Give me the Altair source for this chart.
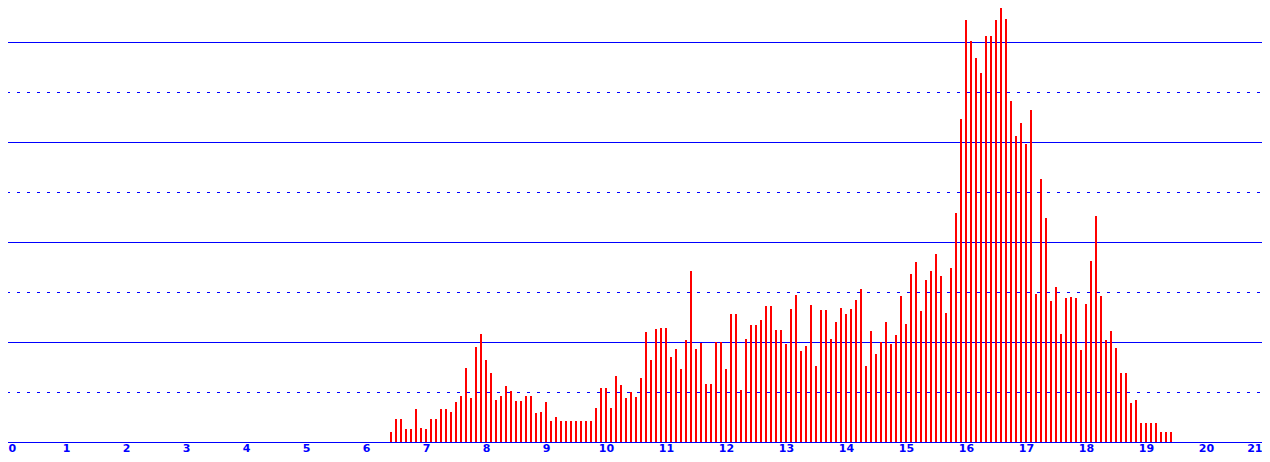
import altair as alt
import pandas as pd

# Bins of five minutes, first bin at 6:25
start_hour = 6
start_minute = 25
step_minutes = 5

counts = [
    0.20, 0.46, 0.46, 0.26, 0.26, 0.66, 0.28, 0.26, 0.46, 0.46,
    0.66, 0.66, 0.60, 0.80, 0.92, 1.48, 0.88, 1.90, 2.16, 1.64,
    1.38, 0.84, 0.92, 1.12, 1.02, 0.82, 0.82, 0.92, 0.92, 0.58,
    0.60, 0.80, 0.42, 0.50, 0.42, 0.42, 0.42, 0.42, 0.42, 0.42,
    0.42, 0.68, 1.08, 1.08, 0.68, 1.32, 1.14, 0.88, 1.00, 0.90,
    1.28, 2.20, 1.64, 2.26, 2.28, 2.28, 1.70, 1.86, 1.46, 2.04,
    3.42, 1.86, 1.98, 1.16, 1.16, 2.00, 2.00, 1.46, 2.56, 2.56,
    1.04, 2.06, 2.34, 2.34, 2.44, 2.72, 2.72, 2.24, 2.24, 1.96,
    2.66, 2.94, 1.82, 1.92, 2.74, 1.52, 2.64, 2.64, 2.06, 2.40,
    2.68, 2.56, 2.66, 2.84, 3.06, 1.52, 2.22, 1.76, 2.00, 2.40,
    1.96, 2.14, 2.92, 2.36, 3.36, 3.60, 2.62, 3.24, 3.42, 3.76,
    3.32, 2.58, 3.48, 4.58, 6.46, 8.44, 8.02, 7.68, 7.38, 8.12,
    8.12, 8.44, 8.80, 8.46, 6.82, 6.12, 6.38, 5.96, 6.64, 2.96,
    5.26, 4.48, 2.82, 3.10, 2.16, 2.88, 2.90, 2.88, 1.84, 2.76,
    3.62, 4.52, 2.92, 2.04, 2.22, 1.88, 1.38, 1.38, 0.78, 0.84,
    0.38, 0.38, 0.38, 0.38, 0.20, 0.20, 0.20,
]

hours = [start_hour + (start_minute + i * step_minutes) / 60.0 for i in range(len(counts))]

tick_values = list(range(0, 22))
solid_levels = [0, 2, 4, 6, 8]
dashed_levels = [1, 3, 5, 7]

BLUE = "#0000FF"
RED = "#FF0000"

bars_df = pd.DataFrame({"hour": hours, "count": counts})
solid_df = pd.DataFrame({"level": solid_levels})
dashed_df = pd.DataFrame({"level": dashed_levels})

# 60 px per hour, so each 5-minute bar lands on whole pixels
x_scale = alt.Scale(domain=[0, 21], range=[-2, 1258], nice=False, zero=False, padding=0)
y_scale = alt.Scale(domain=[0, 8.68], nice=False, zero=True)

solid = alt.Chart(solid_df).mark_rule(color=BLUE, strokeWidth=1, yOffset=0.5).encode(
    y=alt.Y("level:Q", scale=y_scale, axis=None)
)
dashed = alt.Chart(dashed_df).mark_rule(
    color=BLUE, strokeWidth=1, yOffset=0.5, strokeDash=[3, 7], strokeDashOffset=8
).encode(
    y=alt.Y("level:Q", scale=y_scale, axis=None)
)

bars = alt.Chart(bars_df).mark_bar(color=RED, size=2, clip=True).encode(
    x=alt.X(
        "hour:Q",
        scale=x_scale,
        axis=alt.Axis(
            values=tick_values,
            title=None,
            grid=False,
            domain=False,
            ticks=False,
            tickSize=0,
            labelColor=BLUE,
            labelFont="DejaVu Sans",
            labelFontSize=11,
            labelFontWeight="bold",
            labelBaseline="alphabetic",
            labelPadding=9,
            labelFlush=False,
            labelOverlap=False,
            labelBound=False,
            labelAlign={
                "condition": [
                    {"test": "datum.value == 0", "value": "left"},
                    {"test": "datum.value == 21", "value": "right"},
                ],
                "value": "center",
            },
            labelOffset={
                "condition": [
                    {"test": "datum.value == 0", "value": 2},
                    {"test": "datum.value == 21", "value": -4},
                ],
                "value": 0,
            },
        ),
    ),
    y=alt.Y("count:Q", scale=y_scale, axis=None),
)

chart = (
    alt.layer(solid, dashed, bars)
    .properties(
        width=1254,
        height=434,
        autosize=alt.AutoSizeParams(type="none"),
        padding={"left": 0, "top": 0, "right": 0, "bottom": 12},
        background="white",
    )
    .configure_view(stroke=None)
)

chart.save("out.html", embed_options={"renderer": "svg", "actions": False})
